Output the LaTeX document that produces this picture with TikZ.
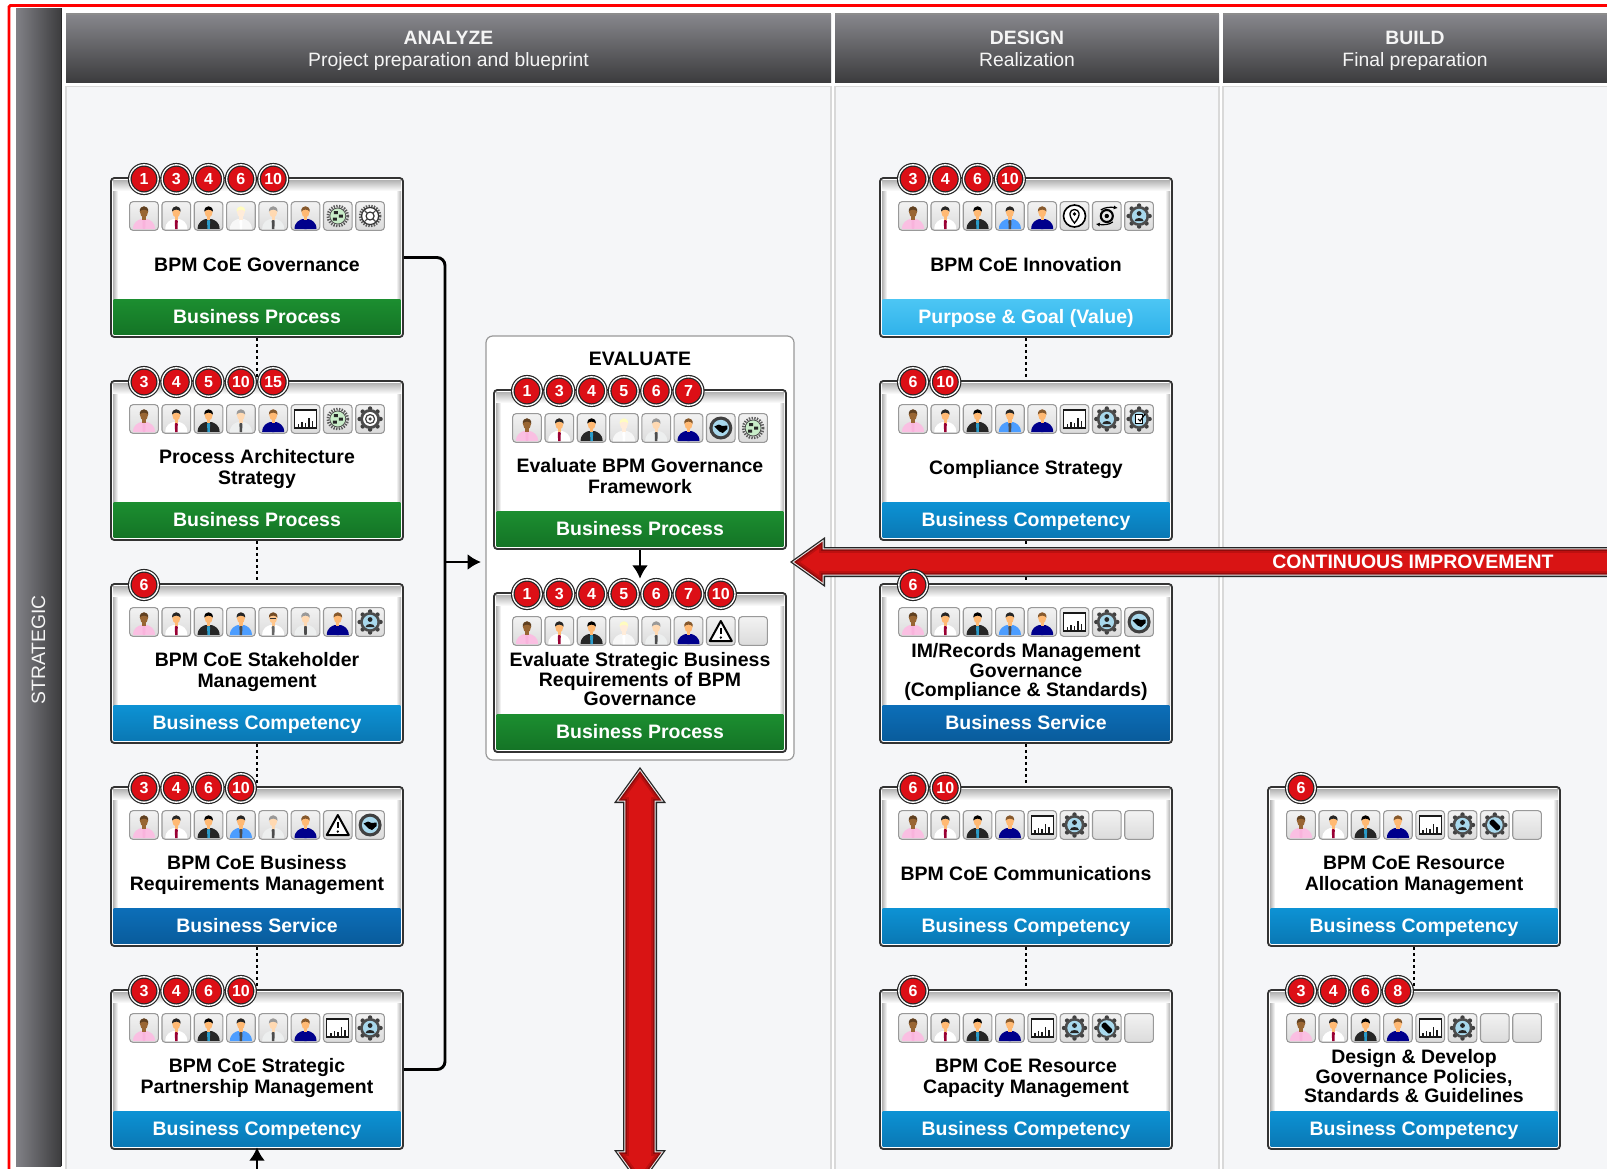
\documentclass[tikz,border=0pt]{standalone}
\usepackage{fontspec}
\setmainfont{Liberation Sans}
\usetikzlibrary{arrows.meta,backgrounds}
\definecolor{panelgrey}{HTML}{F5F6F8}
\definecolor{panelline}{HTML}{D9D9D9}
\definecolor{headtop}{HTML}{87878C}
\definecolor{headbot}{HTML}{3C3C3E}
\definecolor{badgered}{HTML}{DC0F16}
\definecolor{arrowred}{HTML}{D91414}
\definecolor{arrowdark}{HTML}{8E0C0C}
\definecolor{arrowmid}{HTML}{BC1010}
\definecolor{skyring}{HTML}{A8D8EC}
\definecolor{mintring}{HTML}{C8ECC8}
\definecolor{greentop}{HTML}{1C8E30}
\definecolor{greenbot}{HTML}{147426}
\definecolor{bluetop}{HTML}{0D92D4}
\definecolor{bluebot}{HTML}{0A78B4}
\definecolor{navytop}{HTML}{0C6EB8}
\definecolor{navybot}{HTML}{095C9C}
\definecolor{skytop}{HTML}{4CC6F4}
\definecolor{skybot}{HTML}{30B2EA}
\newcommand{\personicon}[4]{
  \fill[#3] (-11,13) .. controls (-11,6) and (-6,4) .. (-3,3) -- (3,3) .. controls (6,4) and (11,6) .. (11,13) -- cycle;
  \fill[#4] (0,3) -- (-1.5,5) -- (-1.2,13) -- (1.2,13) -- (1.5,5) -- cycle;
  \fill[#1] (-1.6,-1) rectangle (1.6,4);
  \fill[#1] (0,-4) circle[x radius=4,y radius=5.5];
  \fill[#2] (-4.3,-4.5) .. controls (-4.6,-11.5) and (4.6,-11.5) .. (4.3,-4.5) .. controls (2,-7) and (-2,-7) .. (-4.3,-4.5) -- cycle;
}
\newcommand{\gearteeth}{
  \foreach \a in {0,45,...,315} \fill[black!75] (\a:10.5) circle (2.2);
  \fill[black!70] (0,0) circle (10);
}
\newcommand{\fineteeth}{
  \draw[black!65,line width=2pt,dash pattern=on 1pt off 1pt] (0,0) circle (10);
}
\tikzset{
  cardbox/.style={draw=black!80,line width=1.4pt,fill=white,rounded corners=2.5pt,inner sep=0pt,minimum width=219pt,minimum height=119.25pt},
  badge/.style={circle,draw=black!85,line width=0.9pt,double=white,double distance=1pt,fill=badgered,text=white,inner sep=0pt,minimum size=21.3pt,font=\fontsize{12}{12}\selectfont\bfseries},
  tile/.style={draw=black!40,line width=0.8pt,rounded corners=2.5pt,top color=white!95!black,bottom color=black!14,inner sep=0pt,minimum size=21.5pt},
  bandbase/.style={inner sep=0pt,minimum width=215pt,minimum height=26.5pt,text height=12pt,text depth=2.6pt,text=white,font=\fontsize{14.6}{15.75}\selectfont\bfseries},
  bandgreen/.style={bandbase,top color=greentop,middle color=greentop,bottom color=greenbot},
  bandblue/.style={bandbase,top color=bluetop,middle color=bluetop,bottom color=bluebot},
  bandnavy/.style={bandbase,top color=navytop,middle color=navytop,bottom color=navybot},
  bandsky/.style={bandbase,top color=skytop,middle color=skytop,bottom color=skybot},
  cardtitle/.style={align=center,inner sep=0pt,font=\fontsize{14.6}{15.75}\selectfont\bfseries},
  headtext/.style={align=center,text=white!96!black,inner sep=0pt,font=\fontsize{14.5}{16.5}\selectfont},
  dottedlink/.style={line width=2.1pt,dash pattern=on 2.1pt off 2.4pt},
  flowline/.style={draw=black,line width=2.2pt,-{Latex[length=10pt,width=12pt]}},
  iconA/.pic={\personicon{brown!80!black}{brown!50!black}{magenta!25!white}{white!70!magenta}},
  iconB/.pic={\personicon{orange!55!white}{black!85}{white}{purple!80!black}},
  iconC/.pic={\personicon{orange!55!white}{black}{black!85}{cyan!80!black}},
  iconD/.pic={\personicon{orange!15!white}{yellow!25!white}{black!3}{white}},
  iconE/.pic={\personicon{orange!55!white}{black!85}{blue!55!cyan!70!white}{black!70}},
  iconF/.pic={\personicon{orange!30!white}{black!40}{cyan!12!black!8!white}{black!70}},
  iconG/.pic={\personicon{orange!55!white}{brown!70!black}{blue!55!black}{blue!55!black}},
  iconH/.pic={\personicon{orange!45!white}{brown!60!black}{white}{black!60}\draw[black!80,line width=0.5pt] (-3,-4) -- (3,-4);},
  iconc/.pic={\draw[black!90,line width=1pt,fill=white] (-11,-9) rectangle (11,9);
    \foreach \bx/\bh in {-7/3,-3.5/5,0/4,3.5/9,7/6} \draw[black!90,line width=1.1pt] (\bx,8) -- (\bx,8-\bh);},
  iconf/.pic={\fineteeth \draw[black!70,fill=mintring,line width=0.6pt] (0,0) circle (8);
    \fill[black!85] (-4,-5) rectangle (0,-2) (1,-1.5) rectangle (5,1.5) (-5,1.5) rectangle (-1,4.5);},
  iconx/.pic={\fineteeth \draw[black!80,fill=white,line width=0.9pt] (0,0) circle (8.5);
    \draw[black!70,line width=0.9pt] (-6,-6) -- (6,6) (-6,6) -- (6,-6);
    \draw[black!80,fill=white,line width=0.9pt] (0,0) circle (4);},
  icont/.pic={\gearteeth \fill[white] (0,0) circle (7); \draw[black!75,line width=0.9pt] (0,0) circle (4.5); \fill[black!75] (0,0) circle (1.8);},
  iconp/.pic={\gearteeth \fill[skyring] (0,0) circle (7.2);
    \fill[black!85] (0,-2.5) circle (2.4) (-4.5,5) .. controls (-4.5,1) and (4.5,1) .. (4.5,5) -- cycle;},
  iconw/.pic={\draw[black,line width=1.5pt,fill=white,line join=round] (0,-10) -- (11,10) -- (-11,10) -- cycle;
    \draw[black,line width=1.5pt] (0,-3) -- (0,3); \fill[black] (0,6.5) circle (1.3);},
  iconh/.pic={\fill[black!75] (0,0) circle (11.5); \fill[skyring] (0,0) circle (8.2);
    \fill[black] (-6.5,-1.5) -- (-2,-3.5) -- (1.5,-2) -- (6.5,-2.5) -- (6.5,1) -- (2,5) -- (-1.5,3.5) -- cycle;},
  iconl/.pic={\draw[black,line width=1.2pt,fill=white] (0,0) circle (11);
    \draw[black,line width=1pt] (0,7) .. controls (-7,-1) and (-5,-6.5) .. (0,-6.5) .. controls (5,-6.5) and (7,-1) .. (0,7) -- cycle; \fill[black] (0,-2) circle (1.8);},
  icons/.pic={\draw[black,line width=1.6pt] (0,0) circle (6); \fill[black] (0,0) circle (2.2);
    \draw[black,line width=0.9pt,-{Latex[length=3pt,width=3pt]}] (-6,-6) .. controls (-2,-9) and (4,-9) .. (11,-8);
    \draw[black,line width=0.9pt,-{Latex[length=3pt,width=3pt]}] (6,6) .. controls (2,9) and (-4,9) .. (-11,8);},
  iconk/.pic={\gearteeth \fill[skyring] (0,0) circle (7.2);
    \draw[black,line width=0.8pt,fill=white] (-3.5,-4.5) rectangle (3,4.5); \draw[black,line width=0.9pt] (-1,0) -- (1,2) -- (6,-5);},
  iconr/.pic={\gearteeth \fill[skyring] (0,0) circle (7.8);
    \fill[black,rounded corners=1pt,rotate=-45] (-6,-2.8) rectangle (6,2.8); \fill[skyring] (3,-3) circle (1);},
  icon0/.pic={},
}
\begin{document}
\begin{tikzpicture}[x=0.75pt,y=-0.75pt]
\clip (0,0) rectangle (1607,1168);
% panels, headers, side strip
\begin{scope}[on background layer]
  \fill[white] (0,0) rectangle (1607,1168);
  \draw[red,line width=2.2pt,rounded corners=1pt] (1640,5.5) -- (9,5.5) -- (9,1200);
  \shade[left color=headtop!105!white,right color=headbot] (16,8) rectangle (61,1166);
  \draw[black!85,line width=1pt] (61.5,8) -- (61.5,1166);
  \node[rotate=90,headtext] (strategic) at (38.5,650) {STRATEGIC};
  \foreach \colname/\xa/\xb/\title/\subtitle in {
    analyze/66/831/ANALYZE/Project preparation and blueprint,
    design/835/1219/DESIGN/Realization,
    build/1223/1640/BUILD/Final preparation}
  {
    \draw[panelline,fill=panelgrey,line width=1.2pt] (\xa,86.5) rectangle (\xb,1200);
    \shade[top color=headtop,bottom color=headbot] (\xa,14) rectangle (\xb,82);
    \draw[black!45,line width=0.8pt] (\xa,14) -- (\xb,14);
    \node[headtext] (\colname-head) at ({(\xa+min(\xb,1607))/2},51.3) {\strut\textbf{\title}\\\subtitle\strut};
  }
  \draw[black!40,fill=white,line width=0.9pt,rounded corners=5pt] (486,336) rectangle (794,760);
  \node[cardtitle] (evaluate) at (640,359) {EVALUATE};
\end{scope}
% cards
\foreach \cardname/\x/\y/\bandstyle/\bandtext/\badges/\icons/\cardtext in {
  c1/111/178/bandgreen/Business Process/{1,3,4,6,10}/{A,B,C,D,F,G,f,x}/{BPM CoE Governance},
  c2/111/381/bandgreen/Business Process/{3,4,5,10,15}/{A,B,C,F,G,c,f,t}/{Process Architecture\\Strategy},
  c3/111/584/bandblue/Business Competency/{6}/{A,B,C,E,H,F,G,p}/{BPM CoE Stakeholder\\Management},
  c4/111/787/bandnavy/Business Service/{3,4,6,10}/{A,B,C,E,F,G,w,h}/{BPM CoE Business\\Requirements Management},
  c5/111/990/bandblue/Business Competency/{3,4,6,10}/{A,B,C,E,F,G,c,p}/{BPM CoE Strategic\\Partnership Management},
  e1/494/390/bandgreen/Business Process/{1,3,4,5,6,7}/{A,B,C,D,F,G,h,f}/{Evaluate BPM Governance\\Framework},
  e2/494/593/bandgreen/Business Process/{1,3,4,5,6,7,10}/{A,B,C,D,F,G,w,0}/{Evaluate Strategic Business\\[-1.1pt]Requirements of BPM\\[-1.1pt]Governance},
  d1/880/178/bandsky/Purpose \& Goal (Value)/{3,4,6,10}/{A,B,C,E,G,l,s,p}/{BPM CoE Innovation},
  d2/880/381/bandblue/Business Competency/{6,10}/{A,B,C,E,G,c,p,k}/{Compliance Strategy},
  d3/880/584/bandnavy/Business Service/{6}/{A,B,C,E,G,c,p,h}/{IM/Records Management\\[-1.1pt]Governance\\[-1.1pt](Compliance \& Standards)},
  d4/880/787/bandblue/Business Competency/{6,10}/{A,B,C,G,c,p,0,0}/{BPM CoE Communications},
  d5/880/990/bandblue/Business Competency/{6}/{A,B,C,G,c,p,r,0}/{BPM CoE Resource\\Capacity Management},
  b1/1268/787/bandblue/Business Competency/{6}/{A,B,C,G,c,p,r,0}/{BPM CoE Resource\\Allocation Management},
  b2/1268/990/bandblue/Business Competency/{3,4,6,8}/{A,B,C,G,c,p,0,0}/{Design \& Develop\\[-1.1pt]Governance Policies,\\[-1.1pt]Standards \& Guidelines}}
{
  \node[cardbox] (\cardname) at (\x+146,\y+79.5) {};
  \shade[top color=black!30,bottom color=white] (\x+2,\y+2) rectangle (\x+290,\y+13);
  \shade[left color=black!30,right color=white!0] (\x+2,\y+13) rectangle (\x+7,\y+121);
  \shade[right color=black!30,left color=white!0] (\x+285,\y+13) rectangle (\x+290,\y+121);
  \node[\bandstyle] (\cardname-band) at (\x+146,\y+139) {\bandtext};
  \node[cardtitle] (\cardname-title) at (\x+146,\y+89.2) {\strut\cardtext\strut};
  \foreach \iconcode [count=\nicon] in \icons
  {
    \node[tile] (\cardname-tile\nicon) at ({\x+33+(\nicon-1)*32.3},\y+38) {};
    \pic at (\cardname-tile\nicon) {icon\iconcode};
  }
  \foreach \badgeno [count=\nbadge] in \badges
    \node[badge] (\cardname-badge\nbadge) at ({\x+33+(\nbadge-1)*32.3},\y+1) {\badgeno};
}
% links and red arrows behind the cards
\begin{scope}[on background layer]
  \foreach \from/\to in {c1/c2,c2/c3,c3/c4,c4/c5,d1/d2,d2/d3,d3/d4,d4/d5,b1/b2}
    \draw[dottedlink] (\from) -- (\to);
  \foreach \inset/\farbe in {0/black!85,1.3/white!92!black,2.3/arrowdark,4/arrowmid,6/arrowred}
  {
    \fill[\farbe] (640,767+1.72*\inset) -- (666-1.955*\inset,803-\inset) -- (657-\inset,803-\inset) -- (657-\inset,1150+\inset) -- (666-1.955*\inset,1150+\inset) -- (640,1186-1.72*\inset) -- (614+1.955*\inset,1150+\inset) -- (623+\inset,1150+\inset) -- (623+\inset,803-\inset) -- (614+1.955*\inset,803-\inset) -- cycle;
    \fill[\farbe] (790+1.72*\inset,562) -- (825-\inset,537+1.955*\inset) -- (825-\inset,547+\inset) -- (1640,547+\inset) -- (1640,577-\inset) -- (825-\inset,577-\inset) -- (825-\inset,587-1.955*\inset) -- cycle;
  }
  \node[cardtitle,text=white] (improvement) at (1413,562) {CONTINUOUS IMPROVEMENT};
\end{scope}
\coordinate (junction) at (445,562);
\coordinate (gate) at (481,562);
\coordinate (foot) at (257,1200);
\draw[line width=2.2pt,rounded corners=6pt] (c1.east) -- (junction |- c1.east) -- (junction |- c5.east) -- (c5.east);
\draw[flowline] (junction) -- (gate);
\draw[flowline,shorten >=10pt] (e1) -- (e2);
\draw[flowline,shorten >=-2pt] (foot) -- (c5);
\end{tikzpicture}
\end{document}
